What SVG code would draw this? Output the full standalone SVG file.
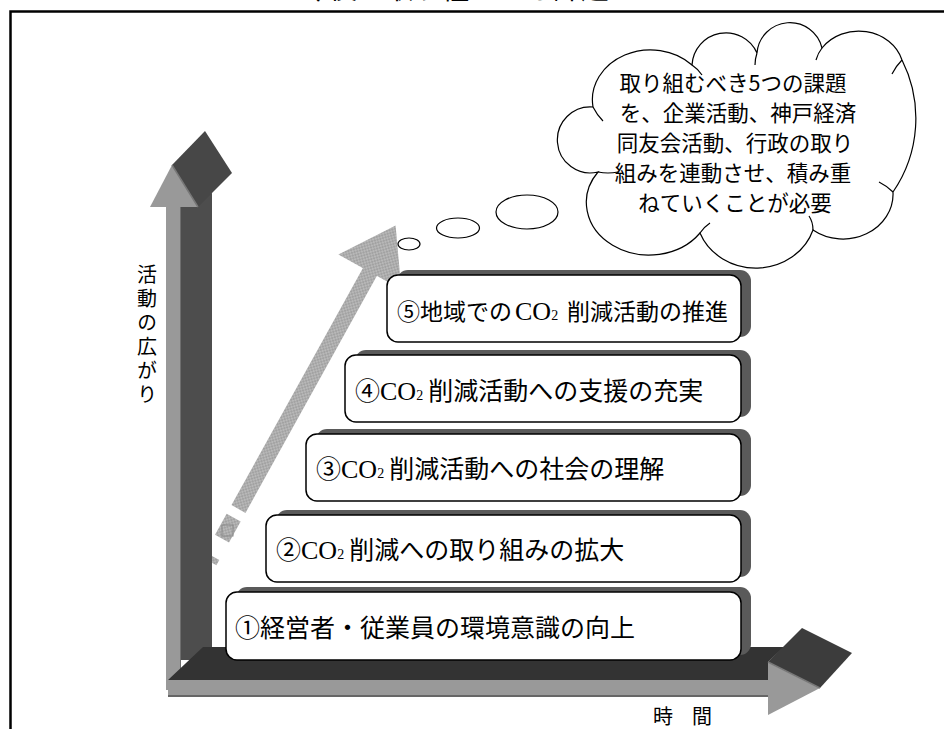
<svg xmlns="http://www.w3.org/2000/svg" width="944" height="729" viewBox="0 0 944 729">
<style>
.jp{font-family:"Noto Sans CJK JP","Noto Sans",sans-serif;fill:#000}
.bt{font-size:25px}
.co{font-family:"Liberation Serif",serif;font-size:26px}
.sub{font-family:"Liberation Serif",serif;font-size:14px}
.box{fill:#fff;stroke:#000;stroke-width:1.5}
.shd{fill:#5a5a5a}
.cl{fill:#fff;stroke:#000;stroke-width:1.2}
.cls{fill:none;stroke:#000;stroke-width:1.2}
.ct{font-size:21.5px}
.lbl{font-size:20px}
</style>
<defs>
<pattern id="chk" width="4" height="4" patternUnits="userSpaceOnUse">
<rect width="4" height="4" fill="#b8b8b8"/>
<rect width="2" height="2" fill="#a2a2a2"/>
<rect x="2" y="2" width="2" height="2" fill="#a2a2a2"/>
</pattern>
</defs>
<rect width="944" height="729" fill="#fff"/>
<g id="frame">
<path d="M10.5,729 V11.5 H944" fill="none" stroke="#000" stroke-width="2.5"/>
<text class="jp" x="455" y="-1.5" font-size="28" text-anchor="middle">今後の取り組むべき課題</text>
</g>
<g id="connectors">
<g id="progress-arrow" transform="translate(238.5,509) rotate(-61)" fill="url(#chk)">
<rect x="0" y="-8" width="272" height="16"/>
<polygon points="271,-36 324,0 271,36"/>
<rect x="-34" y="-8" width="24" height="16"/>
<rect x="-60" y="-8" width="6" height="16"/>
</g>
<rect x="222" y="525" width="11" height="11" fill="none" stroke="#8a8a8a" stroke-width="1"/>
</g>
<g id="axis-vertical">
<rect x="166" y="200" width="14" height="490" fill="#999"/>
<polygon points="180,200 212,193 212,660 180,660" fill="#4d4d4d"/>
<line x1="180.5" y1="207" x2="180.5" y2="670" stroke="#6e6e6e" stroke-width="1"/>
<polygon points="172,165 205,131 232,173 198,207" fill="#474747"/>
<polygon points="150,207 172,165 198,207" fill="#999"/>
<line x1="172" y1="165" x2="198" y2="207" stroke="#777" stroke-width="1.5"/>
</g>
<g id="axis-horizontal">
<polygon points="168,680 203,647 784,647 768,662 768,680" fill="#333"/>
<rect x="168" y="680" width="601" height="15" fill="#999"/>
<rect x="168" y="695" width="601" height="2" fill="#666"/>
<polygon points="768,662 802,628 852,653 820,688" fill="#3c3c3c"/>
<polygon points="768,662 820,688 768,715" fill="#999"/>
<line x1="768" y1="662" x2="820" y2="688" stroke="#777" stroke-width="1.5"/>
</g>
<g id="box1">
<rect class="shd" x="236" y="587" width="515" height="68" rx="11"/>
<rect class="box" x="226" y="592" width="515" height="68" rx="11"/>
<text class="jp bt" x="235" y="637">①経営者・従業員の環境意識の向上</text>
</g>
<g id="box2">
<rect class="shd" x="276" y="510" width="475" height="67" rx="11"/>
<rect class="box" x="266" y="515" width="475" height="67" rx="11"/>
<text class="jp bt" x="276" y="559">②<tspan class="co">CO</tspan><tspan class="sub">2</tspan><tspan dx="5">削減への取り組みの拡大</tspan></text>
</g>
<g id="box3">
<rect class="shd" x="316" y="429" width="435" height="67" rx="11"/>
<rect class="box" x="306" y="434" width="435" height="67" rx="11"/>
<text class="jp bt" x="316" y="478">③<tspan class="co">CO</tspan><tspan class="sub">2</tspan><tspan dx="5">削減活動への社会の理解</tspan></text>
</g>
<g id="box4">
<rect class="shd" x="355" y="350" width="396" height="67" rx="11"/>
<rect class="box" x="345" y="355" width="396" height="67" rx="11"/>
<text class="jp bt" x="355" y="400">④<tspan class="co">CO</tspan><tspan class="sub">2</tspan><tspan dx="5">削減活動への支援の充実</tspan></text>
</g>
<g id="box5">
<rect class="shd" x="397" y="270" width="354" height="67" rx="11"/>
<rect class="box" x="387" y="275" width="354" height="67" rx="11"/>
<text class="jp" font-size="23" x="397" y="320">⑤地域での <tspan class="co" font-size="24" x="515">CO</tspan><tspan class="sub" font-size="13">2</tspan> <tspan x="567">削減活動の推進</tspan></text>
</g>
<g id="thought-bubbles">
<ellipse class="cl" cx="409" cy="244" rx="11" ry="6"/>
<ellipse class="cl" cx="458" cy="228" rx="21.5" ry="10"/>
<ellipse class="cl" cx="527" cy="212" rx="31" ry="17"/>
</g>
<g id="cloud">
<path class="cl" d="M598,172 A33,33 0 1,1 593,107 A58,50 0 0,1 692,65 A34,34 0 0,1 757,53 A33,33 0 0,1 822,48 A45,40 0 0,1 902,60 A130,130 0 0,1 893,192 A50,45 0 0,1 813,230 A60,55 0 0,1 700,233 A62,52 0 0,1 598,172 Z"/>
<path class="cls" d="M598,172 q10,2 20,0 M593,107 q4,8 10,14 M692,65 q6,4 10,10 M757,53 q-2,6 -2,12 M822,48 q-4,5 -6,12 M902,60 q-6,6 -10,14 M893,192 q-6,-6 -14,-10 M813,230 q0,-8 -4,-14 M700,233 q4,-6 10,-10"/>
<text class="jp ct" text-anchor="middle" x="733" y="91">取り組むべき5つの課題</text>
<text class="jp ct" text-anchor="middle" x="738" y="121">を、企業活動、神戸経済</text>
<text class="jp ct" text-anchor="middle" x="735" y="151">同友会活動、行政の取り</text>
<text class="jp ct" text-anchor="middle" x="733" y="181">組みを連動させ、積み重</text>
<text class="jp ct" text-anchor="middle" x="735" y="211">ねていくことが必要</text>
</g>
<g id="axis-labels">
<text class="jp lbl" x="147" y="264" style="writing-mode:vertical-rl" letter-spacing="4">活動の広がり</text>
<text class="jp lbl" x="653" y="724">時<tspan x="692">間</tspan></text>
</g>
</svg>
